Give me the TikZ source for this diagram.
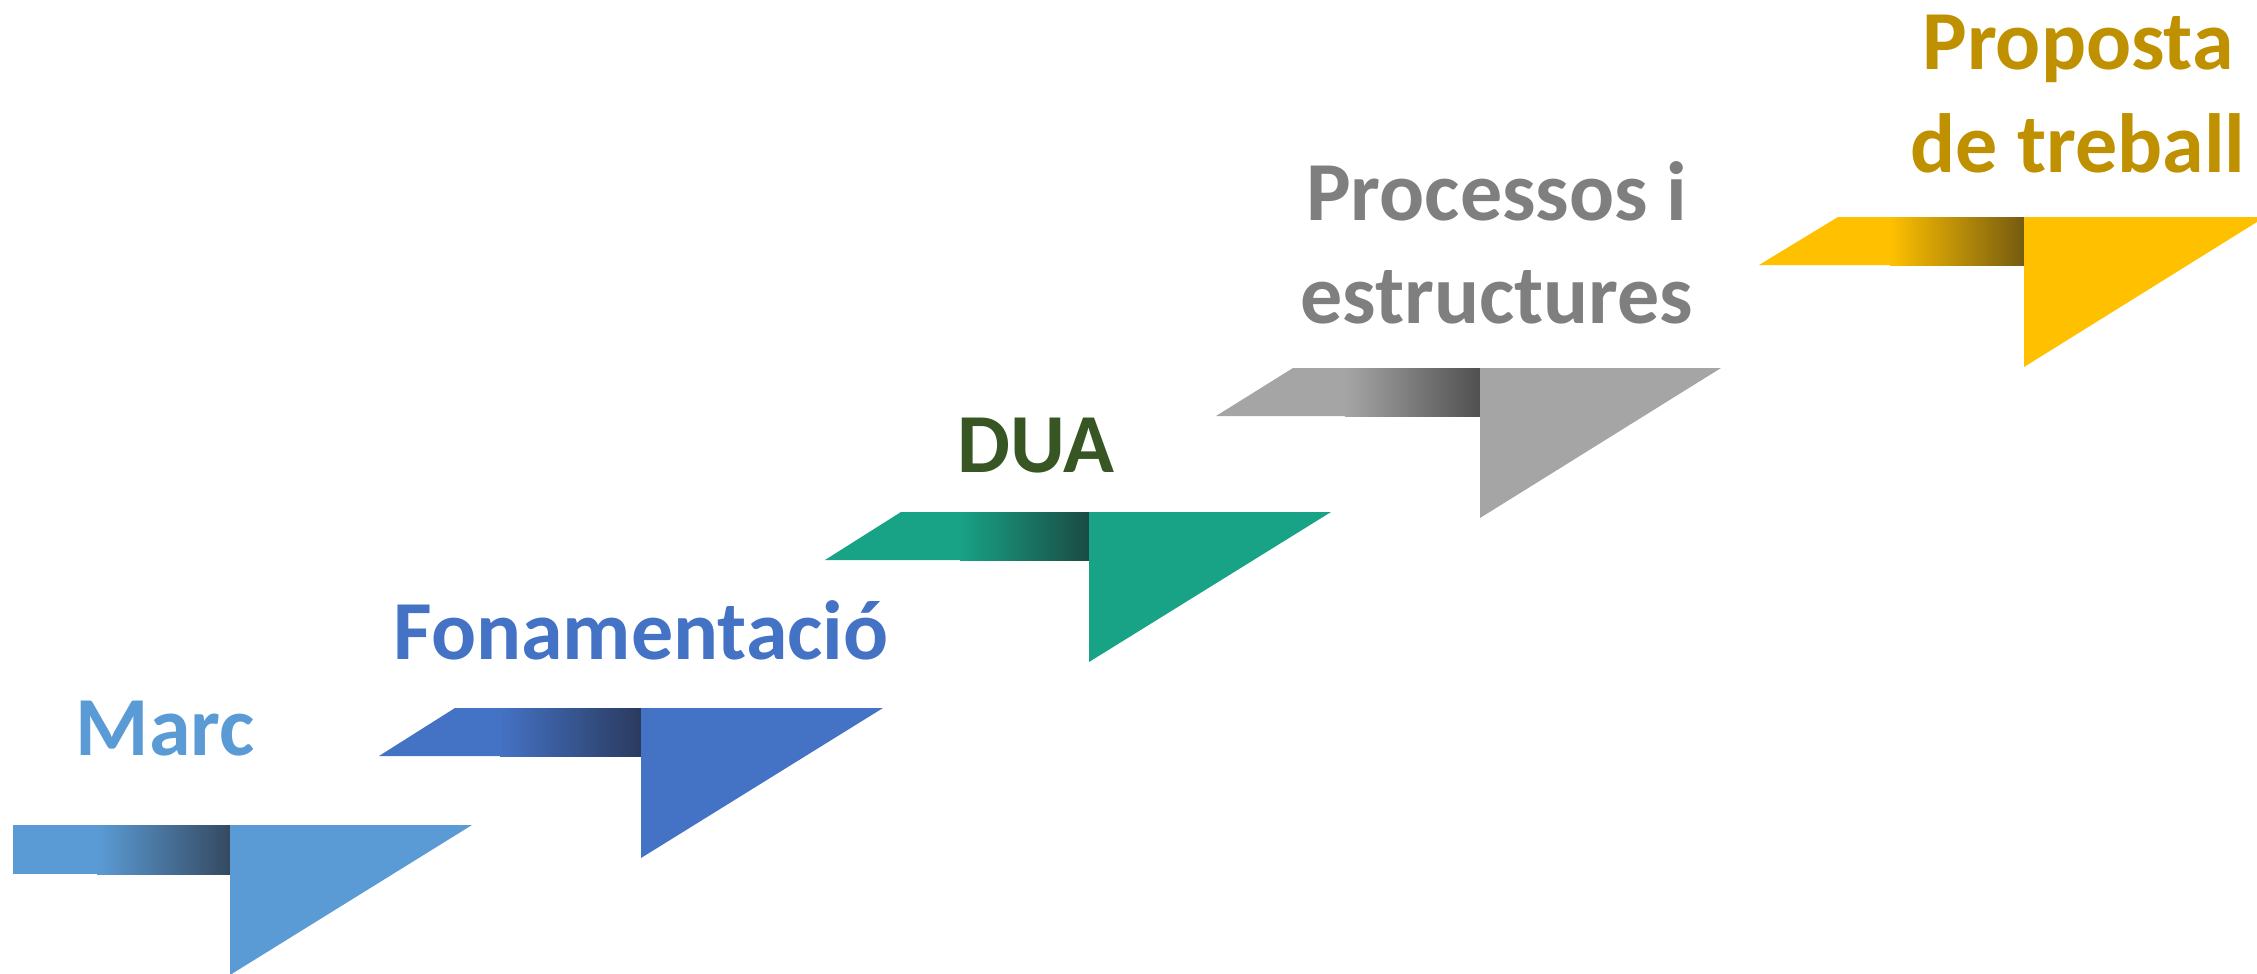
\documentclass[tikz,border=0pt]{standalone}
\usepackage{fontspec}
\setmainfont{Carlito}
\definecolor{cA}{HTML}{5B9BD5}\definecolor{dA}{HTML}{34495F}
\definecolor{cB}{HTML}{4472C4}\definecolor{dB}{HTML}{2A3A5E}
\definecolor{cC}{HTML}{18A286}\definecolor{dC}{HTML}{1A4A42}\definecolor{tC}{HTML}{375623}
\definecolor{cD}{HTML}{A5A5A5}\definecolor{dD}{HTML}{505050}\definecolor{tD}{HTML}{7F7F7F}
\definecolor{cE}{HTML}{FFC000}\definecolor{dE}{HTML}{735A10}\definecolor{tE}{HTML}{BF9000}
\tikzset{lbl/.style={font=\bfseries\fontsize{84}{103}\selectfont, inner sep=0pt, anchor=base, align=center}}
\begin{document}
\begin{tikzpicture}[x=1pt,y=-1pt]
\useasboundingbox (0,0) rectangle (2257,974);
\clip (0,0) rectangle (2257,974);
% step 1
\fill[cA] (13,825) rectangle (231,874);
\shade[left color=cA, right color=dA] (97,825) rectangle (231,874);
\fill[cA] (230,825) -- (472,825) -- (230,975) -- cycle;
% step 2
\fill[cB] (379,756) -- (455,708) -- (642,708) -- (642,756) -- cycle;
\shade[left color=cB, right color=dB] (500,708) rectangle (642,756);
\fill[cB] (641,708) -- (883,708) -- (641,858) -- cycle;
% step 3
\fill[cC] (825,560) -- (901,512) -- (1090,512) -- (1090,560) -- cycle;
\shade[left color=cC, right color=dC] (960,512) rectangle (1090,560);
\fill[cC] (1089,512) -- (1331,512) -- (1089,662) -- cycle;
% step 4
\fill[cD] (1216,416) -- (1293,368) -- (1481,368) -- (1481,416) -- cycle;
\shade[left color=cD, right color=dD] (1345,368) rectangle (1481,416);
\fill[cD] (1480,368) -- (1721,368) -- (1480,518) -- cycle;
% step 5
\fill[cE] (1759,265) -- (1838,217) -- (2025,217) -- (2025,265) -- cycle;
\shade[left color=cE, right color=dE] (1890,217) rectangle (2025,265);
\fill[cE] (2024,217) -- (2265,217) -- (2024,367) -- cycle;
% labels
\node[lbl, text=cA] (marc) at (165,755) {Marc};
\node[lbl, text=cB] (fona) at (641,659) {Fonamentació};
\node[lbl, text=tC] (dua) at (1036,472) {DUA};
\node[lbl, text=tD] (proc) at (1497,323) {Processos i\\estructures};
\node[lbl, text=tE] (prop) at (2078,172) {Proposta\\de treball};
\end{tikzpicture}
\end{document}
